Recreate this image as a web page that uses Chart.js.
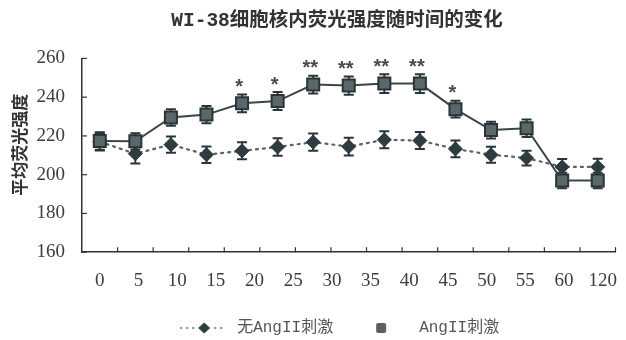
<!DOCTYPE html>
<html><head><meta charset="utf-8">
<script src="https://cdn.jsdelivr.net/npm/chart.js@4/dist/chart.umd.min.js"></script>
<style>html,body{margin:0;padding:0;background:#fff}</style>
</head><body>
<canvas id="c" width="626" height="340"></canvas>
<script>
// ---- data ----
const categories = ['1','2','3','4','5','6','7','8','9','10','11','12','13','14','15']; // measurement points
const tickLabels = ['0','5','10','15','20','25','30','35','40','45','50','55','60','120'];
const seriesNames = ['无AngII刺激', 'AngII刺激'];
const controlMean = [217.0, 210.8, 215.5, 210.3, 212.3, 214.3, 216.8, 214.5, 218.0, 217.6, 213.3, 210.3, 208.6, 204.0, 204.0];
const controlErr  = [4.5, 5.0, 4.2, 4.3, 4.4, 4.5, 4.5, 4.6, 4.4, 4.4, 4.3, 4.1, 3.8, 4.1, 4.2];
const angMean     = [217.4, 217.2, 229.5, 231.0, 236.8, 238.0, 246.5, 246.0, 247.0, 247.0, 233.8, 223.0, 224.0, 197.0, 197.0];
const angErr      = [4.5, 4.2, 4.2, 4.5, 4.6, 4.6, 4.6, 4.7, 4.8, 4.8, 4.3, 4.3, 4.5, 4.0, 4.0];
const significance = ['', '', '', '', '*', '*', '**', '**', '**', '**', '*', '', '', '', ''];
const chartTitle = 'WI-38细胞核内荧光强度随时间的变化';
const yTitle = '平均荧光强度';

// ---- legend icons ----
function makeIcon(kind) {
  const c = document.createElement('canvas');
  c.width = 50; c.height = 14;
  const g = c.getContext('2d');
  if (kind === 0) {
    g.fillStyle = '#6a7275';
    [2, 8, 14, 36, 42].forEach(px => { g.beginPath(); g.arc(px, 7, 1.1, 0, Math.PI * 2); g.fill(); });
    g.fillStyle = '#2e3b3f';
    g.beginPath(); g.moveTo(19, 7); g.lineTo(25, 1.5); g.lineTo(31, 7); g.lineTo(25, 12.5); g.closePath(); g.fill();
  } else {
    g.fillStyle = '#5a6063';
    g.beginPath(); if (g.roundRect) { g.roundRect(15, 2, 10, 10, 2); } else { g.rect(15, 2, 10, 10); } g.fill();
  }
  return c;
}
const icons = [makeIcon(0), makeIcon(1)];

const extras = {
  id: 'extras',
  beforeDatasetsDraw(chart) {
    const ctx = chart.ctx, y = chart.scales.y, x = chart.scales.x, area = chart.chartArea;
    ctx.save();
    ctx.strokeStyle = '#333'; ctx.lineWidth = 1.2;
    y.ticks.forEach(t => {
      const py = y.getPixelForValue(t.value);
      ctx.beginPath(); ctx.moveTo(area.left, py); ctx.lineTo(area.left + 5, py); ctx.stroke();
    });
    for (let i = 0; i < categories.length; i++) {
      const px = (x.getPixelForValue(i) + x.getPixelForValue(i + 1)) / 2;
      ctx.beginPath(); ctx.moveTo(px, area.bottom); ctx.lineTo(px, area.bottom - 5); ctx.stroke();
    }
    [[0, controlMean, controlErr], [1, angMean, angErr]].forEach(([di, m, e]) => {
      const meta = chart.getDatasetMeta(di);
      ctx.strokeStyle = '#2b3538'; ctx.lineWidth = 2;
      meta.data.forEach((pt, j) => {
        const top = y.getPixelForValue(m[j] + e[j]), bot = y.getPixelForValue(m[j] - e[j]);
        ctx.beginPath();
        ctx.moveTo(pt.x, top); ctx.lineTo(pt.x, bot);
        ctx.moveTo(pt.x - 5, top); ctx.lineTo(pt.x + 5, top);
        ctx.moveTo(pt.x - 5, bot); ctx.lineTo(pt.x + 5, bot);
        ctx.stroke();
      });
    });
    ctx.restore();
  },
  afterDatasetsDraw(chart) {
    const ctx = chart.ctx, y = chart.scales.y;
    const meta = chart.getDatasetMeta(1);
    ctx.save();
    ctx.fillStyle = '#4a4a4a';
    ctx.font = 'bold 20px "Liberation Sans"';
    ctx.textAlign = 'center';
    ctx.textBaseline = 'alphabetic';
    meta.data.forEach((pt, j) => {
      if (!significance[j]) return;
      const top = y.getPixelForValue(angMean[j] + angErr[j]);
      ctx.fillText(significance[j], pt.x - 3, top - 13 + 11.5);
    });
    ctx.restore();
  }
};

new Chart(document.getElementById('c'), {
  type: 'line',
  data: {
    labels: categories,
    datasets: [
      {
        label: seriesNames[0], data: controlMean, order: 1,
        borderColor: '#5a6266', borderWidth: 2.2, borderDash: [2, 5], borderCapStyle: 'round',
        pointStyle: 'rectRot', pointRadius: 7, pointBackgroundColor: '#2e3b3f', pointBorderColor: '#2e3b3f', pointBorderWidth: 1,
        tension: 0, fill: false
      },
      {
        label: seriesNames[1], data: angMean, order: 0,
        borderColor: '#3a4548', borderWidth: 2,
        pointStyle: 'rect', pointRadius: 8.5, pointBackgroundColor: '#5b676b', pointBorderColor: '#2b3437', pointBorderWidth: 2,
        tension: 0, fill: false
      }
    ]
  },
  options: {
    responsive: false, animation: false, devicePixelRatio: 1,
    layout: { padding: { left: 0, right: 0, top: 0, bottom: -6 } },
    scales: {
      x: { type: 'category', offset: true, display: false },
      x2: {
        type: 'linear', position: 'bottom', axis: 'x', min: -0.46, max: 13.33, offset: false,
        grid: { drawOnChartArea: false, drawTicks: true, tickLength: 17, tickColor: 'rgba(0,0,0,0)' },
        border: { display: true, color: '#333', width: 1.5 },
        ticks: {
          stepSize: 1, includeBounds: false, autoSkip: false, maxRotation: 0, minRotation: 0, padding: 0,
          color: '#3c3c3c', font: { family: '"Liberation Serif"', size: 19 },
          callback: v => (Number.isInteger(v) && v >= 0 && v < tickLabels.length) ? tickLabels[v] : null
        }
      },
      y: {
        min: 160, max: 260,
        afterFit: s => { s.width = 82; },
        grid: { drawOnChartArea: false, drawTicks: false },
        border: { display: true, color: '#333', width: 1.5 },
        ticks: { stepSize: 20, padding: 17, color: '#3c3c3c', font: { family: '"Liberation Serif"', size: 19 } },
        title: { display: true, text: '\u3000 ' + yTitle, color: '#333', font: { family: '"Noto Sans CJK SC"', size: 17, weight: 'bold' }, padding: { top: 9, bottom: 7 } }
      }
    },
    plugins: {
      title: {
        display: true, text: chartTitle + '  ', fullSize: false, color: '#333',
        font: { family: '"Liberation Mono", "Noto Sans CJK SC"', size: 19.5, weight: 'bold' },
        padding: { top: 9, bottom: 26 }
      },
      legend: {
        display: true, position: 'bottom', fullSize: false,
        labels: {
          usePointStyle: true, pointStyleWidth: 50, boxHeight: 12, padding: 28,
          color: '#555', font: { family: '"Liberation Mono", "Noto Sans CJK SC"', size: 16 },
          generateLabels: chart => chart.data.datasets.map((ds, i) => ({
            text: ds.label + (i === 1 ? '  ' : ''), pointStyle: icons[i], datasetIndex: i,
            fillStyle: 'rgba(0,0,0,0)', strokeStyle: 'rgba(0,0,0,0)', lineWidth: 0, hidden: false, fontColor: '#555'
          }))
        }
      },
      tooltip: { enabled: false }
    }
  },
  plugins: [extras]
});
</script>
</body></html>
